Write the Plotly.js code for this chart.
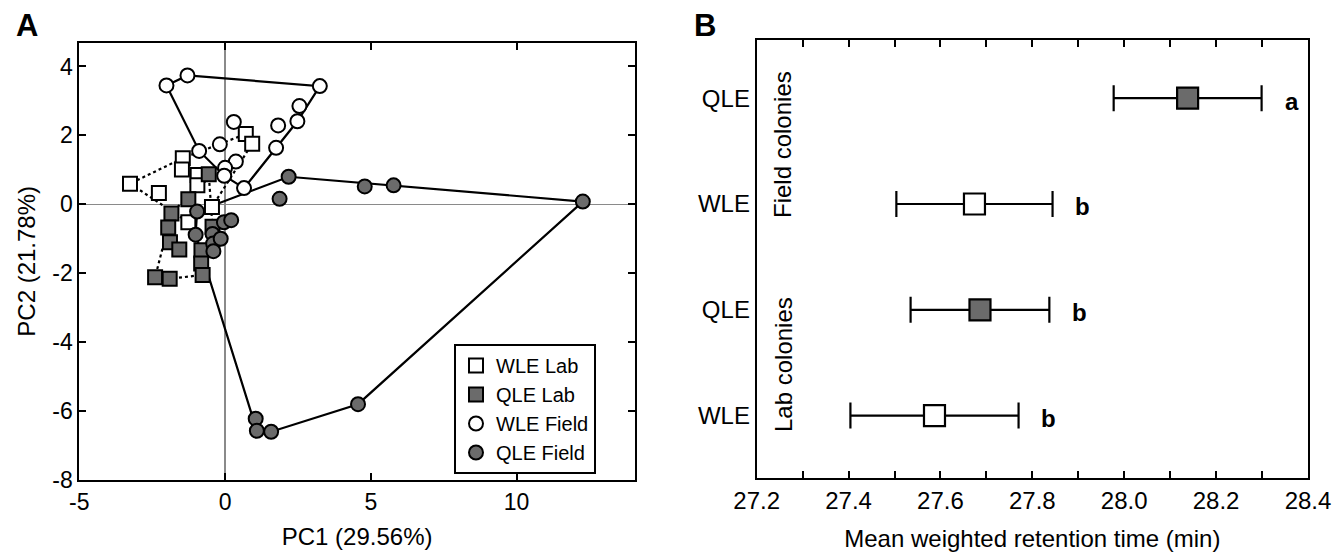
<!DOCTYPE html>
<html>
<head>
<meta charset="utf-8">
<script src="https://cdn.plot.ly/plotly-3.0.1.min.js"></script>
<style>html,body{margin:0;padding:0;background:#fff;}#chart{width:1342px;height:553px;}</style>
</head>
<body>
<div id="chart"></div>
<script>
// ---- Panel A data: PCA scores ----
const wleLabX   = [-3.26, -2.27, -1.45, -1.48, -0.94, -0.95, 0.71, 0.93, -0.45, -1.26];
const wleLabY   = [0.60, 0.33, 1.34, 1.01, 0.85, 0.55, 2.04, 1.76, -0.08, -0.52];
const qleLabX   = [-0.56, -1.26, -1.84, -1.95, -1.89, -1.57, -0.81, -0.82, -0.77, -2.40, -1.90, -0.43];
const qleLabY   = [0.87, 0.15, -0.27, -0.67, -1.10, -1.31, -1.33, -1.72, -2.05, -2.12, -2.16, -0.65];
const wleFieldX = [-2.01, -1.29, 3.25, 2.55, 2.48, 1.82, 1.75, 0.30, -0.18, -0.89, 0.37, 0.00, -0.03, 0.65];
const wleFieldY = [3.45, 3.74, 3.43, 2.85, 2.41, 2.29, 1.64, 2.39, 1.74, 1.55, 1.24, 1.06, 0.83, 0.47];
const qleFieldX = [2.18, 1.87, 4.79, 5.78, 12.27, 4.56, 1.05, 1.09, 1.58, -0.96, -1.01, -0.43, -0.41, -0.40, -0.15, -0.04, 0.21];
const qleFieldY = [0.80, 0.16, 0.52, 0.55, 0.08, -5.80, -6.22, -6.57, -6.60, -0.21, -0.88, -0.86, -1.14, -1.36, -1.00, -0.52, -0.46];
const groupNames = ['WLE Lab', 'QLE Lab', 'WLE Field', 'QLE Field'];
const xTicksA = [-5, 0, 5, 10];
const yTicksA = [-8, -6, -4, -2, 0, 2, 4];

// ---- Panel B data: mean weighted retention time ----
const bCategories = ['Lab WLE', 'Lab QLE', 'Field WLE', 'Field QLE'];
const bTickLabels = ['WLE', 'QLE', 'WLE', 'QLE'];
const bMeans  = [27.587, 27.686, 27.674, 28.138];
const bErrors = [0.183, 0.151, 0.170, 0.161];
const bLetters = ['b', 'b', 'b', 'a'];
const xTicksB = [27.2, 27.4, 27.6, 27.8, 28.0, 28.2, 28.4];

const FONT = 'Liberation Sans, Arial, sans-serif';
const GRAY = '#6b6b6b';
const W = 1342, H = 553;

function hull(xs, ys) {
  const pts = xs.map((x, i) => [x, ys[i]]).sort((a, b) => a[0] - b[0] || a[1] - b[1]);
  const cross = (o, a, b) => (a[0] - o[0]) * (b[1] - o[1]) - (a[1] - o[1]) * (b[0] - o[0]);
  const lower = [], upper = [];
  for (const p of pts) { while (lower.length >= 2 && cross(lower[lower.length - 2], lower[lower.length - 1], p) <= 0) lower.pop(); lower.push(p); }
  for (let i = pts.length - 1; i >= 0; i--) { const p = pts[i]; while (upper.length >= 2 && cross(upper[upper.length - 2], upper[upper.length - 1], p) <= 0) upper.pop(); upper.push(p); }
  upper.pop(); lower.pop();
  const h = lower.concat(upper); h.push(h[0]);
  return { x: h.map(p => p[0]), y: h.map(p => p[1]) };
}

const groups = [
  { x: wleLabX, y: wleLabY, sym: 'square', fill: '#ffffff', dash: 'dot' },
  { x: qleLabX, y: qleLabY, sym: 'square', fill: GRAY, dash: 'dot' },
  { x: wleFieldX, y: wleFieldY, sym: 'circle', fill: '#ffffff', dash: 'solid' },
  { x: qleFieldX, y: qleFieldY, sym: 'circle', fill: GRAY, dash: 'solid' }
];

const traces = [];
groups.forEach(g => {
  const h = hull(g.x, g.y);
  traces.push({ type: 'scatter', mode: 'lines', x: h.x, y: h.y, xaxis: 'x', yaxis: 'y',
    line: { color: '#000', width: 2.2, dash: g.dash }, showlegend: false, hoverinfo: 'skip' });
});
groups.forEach((g, i) => {
  traces.push({ type: 'scatter', mode: 'markers', x: g.x, y: g.y, xaxis: 'x', yaxis: 'y', name: groupNames[i],
    marker: { symbol: g.sym, size: 14, color: g.fill, line: { color: '#000', width: 2 } } });
});

traces.push({ type: 'scatter', mode: 'markers', x: bMeans, y: bCategories, xaxis: 'x2', yaxis: 'y2', showlegend: false,
  error_x: { type: 'data', array: bErrors, visible: true, color: '#000', thickness: 2.2, width: 13 },
  marker: { symbol: 'square', size: 21, color: bTickLabels.map(l => l === 'QLE' ? GRAY : '#ffffff'), line: { color: '#000', width: 2.2 } } });

const px = v => v / W, py = v => 1 - v / H;
const ann = (text, x, y, size, extra) => Object.assign({ text: text, xref: 'paper', yref: 'paper', x: px(x), y: py(y),
  xanchor: 'center', yanchor: 'middle', showarrow: false, font: { family: FONT, size: size, color: '#000' } }, extra || {});

const annotations = [
  ann('<b>A</b>', 27, 26, 31),
  ann('<b>B</b>', 705, 25, 31),
  ann('Field colonies', 783, 144, 24, { textangle: -90 }),
  ann('Lab colonies', 783, 364, 24, { textangle: -90 })
];
bLetters.forEach((l, i) => {
  annotations.push({ text: '<b>' + l + '</b>', xref: 'x2', yref: 'y2', x: bMeans[i] + bErrors[i] + 0.066, y: bCategories[i],
    xanchor: 'center', yanchor: 'middle', yshift: -3, showarrow: false, font: { family: FONT, size: 24, color: '#000' } });
});

const axBase = { showline: true, linecolor: '#000', linewidth: 2, mirror: 'ticks', ticks: 'inside', ticklen: 7, tickwidth: 2,
  tickcolor: '#000', showgrid: false, tickfont: { family: FONT, size: 23, color: '#000' }, automargin: false };

const layout = {
  width: W, height: H, margin: { l: 0, r: 0, t: 0, b: 0 }, paper_bgcolor: '#fff', plot_bgcolor: '#fff',
  font: { family: FONT, color: '#000' }, showlegend: true,
  xaxis: Object.assign({}, axBase, { domain: [px(79.3), px(635)], range: [-5, 14.06], tickvals: xTicksA, ticktext: xTicksA.map(String),
    zeroline: true, zerolinecolor: '#8a8a8a', zerolinewidth: 1.5, anchor: 'y',
    title: { text: 'PC1 (29.56%)', font: { family: FONT, size: 24, color: '#000' }, standoff: 15 } }),
  yaxis: Object.assign({}, axBase, { domain: [1 - 480 / H, 1 - 42.7 / H], range: [-8, 4.69], tickvals: yTicksA, ticktext: yTicksA.map(String),
    zeroline: true, zerolinecolor: '#8a8a8a', zerolinewidth: 1.5, anchor: 'x',
    title: { text: 'PC2 (21.78%)', font: { family: FONT, size: 24, color: '#000' }, standoff: 10 } }),
  xaxis2: Object.assign({}, axBase, { domain: [px(756.7), px(1308)], range: [27.2, 28.4], tickvals: xTicksB, ticktext: xTicksB.map(v => v.toFixed(1)),
    minor: { dtick: 0.1, ticks: 'inside', ticklen: 7, tickwidth: 2, tickcolor: '#000' }, zeroline: false, anchor: 'y2',
    tickfont: { family: FONT, size: 24, color: '#000' },
    title: { text: 'Mean weighted retention time (min)', font: { family: FONT, size: 24, color: '#000' }, standoff: 17 } }),
  yaxis2: Object.assign({}, axBase, { domain: [1 - 478 / H, 1 - 40 / H], type: 'category', categoryorder: 'array',
    categoryarray: bCategories, tickvals: bCategories, ticktext: bTickLabels, range: [-0.59, 3.55], ticks: '', zeroline: false,
    anchor: 'x2', tickfont: { family: FONT, size: 24, color: '#000' } }),
  legend: { x: px(454), y: py(344), xanchor: 'left', yanchor: 'top', bgcolor: '#fff', bordercolor: '#000', borderwidth: 2,
    font: { family: FONT, size: 20, color: '#000' }, tracegroupgap: 0 },
  annotations: annotations
};

Plotly.newPlot('chart', traces, layout, { staticPlot: true, displayModeBar: false });
</script>
</body>
</html>
